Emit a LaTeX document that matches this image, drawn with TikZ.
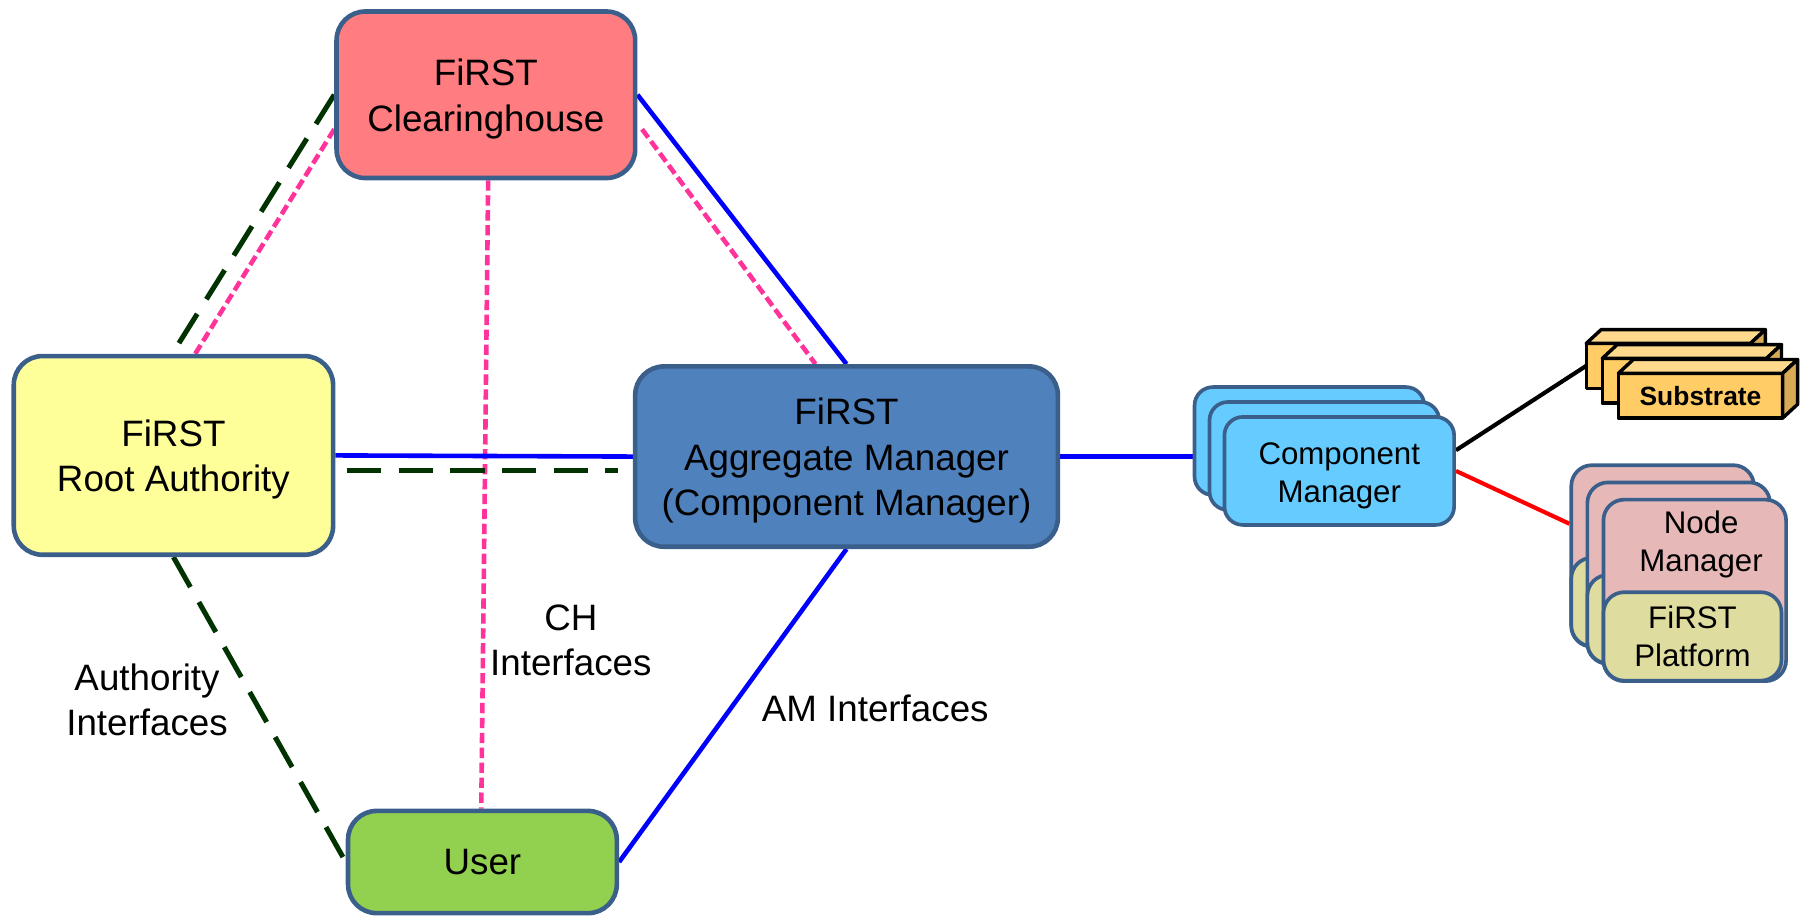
\documentclass[tikz,border=0pt]{standalone}
\usepackage{fontspec}
\setmainfont{Liberation Sans}
\usetikzlibrary{calc,backgrounds}
\definecolor{bord}{HTML}{3A5F8B}
\definecolor{chfill}{HTML}{FF7C80}
\definecolor{rafill}{HTML}{FFFF99}
\definecolor{amfill}{HTML}{4F81BD}
\definecolor{userfill}{HTML}{92D050}
\definecolor{cmfill}{HTML}{66CCFF}
\definecolor{nmfill}{HTML}{E6B9B8}
\definecolor{platfill}{HTML}{DFDC9F}
\definecolor{subfront}{HTML}{FFCC66}
\definecolor{subtop}{HTML}{FFD98C}
\definecolor{subside}{HTML}{D9AA55}
\definecolor{pinkline}{HTML}{FF3399}
\definecolor{greenline}{HTML}{003300}
\definecolor{blueline}{HTML}{0000FF}
\newcommand\bigtxt{\fontsize{16}{19.8}\selectfont}
\newcommand\midtxt{\fontsize{13.6}{16.6}\selectfont}
\newcommand\subtxt{\fontsize{11.5}{13}\selectfont\bfseries}
\newcommand\lowtext[2]{\raisebox{#1}[\height][\depth]{\begin{tabular}{@{}c@{}}#2\end{tabular}}}
\newcommand\cubefaces[1]{%
  \draw[subedge, fill=subtop] (#1.north west) -- ++(13,-12) -- ($(#1.north east)+(13,-12)$) -- (#1.north east) -- cycle;
  \draw[subedge, fill=subside] (#1.north east) -- ++(13,-12) -- ($(#1.south east)+(13,-12)$) -- (#1.south east) -- cycle;}
\begin{document}
\begin{tikzpicture}[x=0.5pt,y=-0.5pt,
  mainbox/.style={draw=bord, line width=2pt, rounded corners=12.5pt, align=center, font=\bigtxt, inner sep=0pt},
  cmbox/.style={draw=bord, fill=cmfill, line width=1.6pt, rounded corners=8pt, minimum width=100pt, minimum height=47pt, align=center, font=\midtxt, inner sep=0pt},
  nmbox/.style={draw=bord, fill=nmfill, line width=1.6pt, rounded corners=9pt, minimum width=79.5pt, minimum height=79pt, inner sep=0pt},
  platbox/.style={draw=bord, fill=platfill, line width=1.6pt, rounded corners=9pt, minimum width=77.5pt, minimum height=38.5pt, align=center, font=\midtxt, inner sep=0pt},
  subbox/.style={draw=black, fill=subfront, line width=1.5pt, line join=round, minimum width=71.5pt, minimum height=19.5pt, outer sep=0pt, inner sep=0pt, font=\subtxt},
  subedge/.style={draw=black, line width=1.5pt, line join=round},
  lbl/.style={align=center, font=\bigtxt, inner sep=0pt},
  txt/.style={align=center, font=\midtxt, inner sep=0pt},
  bluecon/.style={draw=blueline, line width=2pt},
  pinkcon/.style={draw=pinkline, line width=2pt, dash pattern=on 4.5pt off 2pt},
  greencon/.style={draw=greenline, line width=2.2pt, dash pattern=on 15pt off 7.5pt}
]
\useasboundingbox (0,0) rectangle (1568,797);

% main nodes
\node[mainbox, fill=chfill, minimum width=130pt, minimum height=72.5pt] (ch) at (423,82.5) {\lowtext{-2pt}{FiRST\\Clearinghouse}};
\node[mainbox, fill=rafill, minimum width=139pt, minimum height=86.5pt] (ra) at (151,396.5) {\lowtext{-2pt}{FiRST\\Root Authority}};
\node[mainbox, fill=amfill, minimum width=184pt, minimum height=78.5pt] (am) at (737,397.5) {\lowtext{-2pt}{FiRST\\Aggregate Manager\\(Component Manager)}};
\node[mainbox, fill=userfill, minimum width=117pt, minimum height=44.5pt] (user) at (420,750.5) {\lowtext{-1.5pt}{User}};

% component manager stack
\node[cmbox] (cm3) at (1140,384) {};
\node[cmbox] (cm2) at (1153,397) {};
\node[cmbox] (cm) at (1166,410) {\lowtext{-2pt}{Component\\Manager}};

% substrate stack
\node[subbox] (sub3) at (1452.5,318.5) {};
\cubefaces{sub3}
\node[subbox] (sub2) at (1466.5,331.5) {};
\cubefaces{sub2}
\node[subbox] (sub) at (1480.5,344.5) {Substrate};
\cubefaces{sub}

% node manager stack
\node[nmbox] (nm3) at (1447.5,484) {};
\node[platbox] (pl3) at ($(nm3.south)+(-2,-40.5)$) {};
\node[nmbox] (nm2) at (1461.5,499) {};
\node[platbox] (pl2) at ($(nm2.south)+(-2,-40.5)$) {};
\node[nmbox] (nm) at (1475.5,514) {};
\node[platbox] (pl) at ($(nm.south)+(-2,-40.5)$) {FiRST\\Platform};
\node[txt] (nmtext) at (1481,474) {Node\\Manager};

% labels
\node[lbl] (chl) at (497,557.5) {CH\\Interfaces};
\node[lbl] (authl) at (128,609.5) {Authority\\Interfaces};
\node[lbl] (aml) at (762,617) {AM Interfaces};

% connectors
\begin{pgfonlayer}{background}
\draw[bluecon] (ch.east) -- (am.north);
\draw[pinkcon] ($(ch.east)+(4,30)$) -- ($(am.north)+(-27,0)$);
\draw[pinkcon] ($(ch.south)+(2,0)$) -- ($(user.north)+(-1,0)$);
\draw[pinkcon] ($(ch.west)+(0,30)$) -- ($(ra.north)+(19,0)$);
\draw[greencon] (ch.west) -- ($(ra.north)+(-1,0)$);
\draw[bluecon] (ra.east) -- (am.west);
\draw[greencon] ($(ra.east)+(10,13)$) -- ($(am.west)+(-13,12)$);
\draw[greencon] (ra.south) -- (user.west);
\draw[bluecon] (am.south) -- (user.east);
\draw[bluecon] (am.east) -- (am.east -| cm3.west);
\draw[draw=black, line width=1.8pt] ($(cm.east)+(0,-18)$) -- (sub3.west);
\draw[draw=red, line width=1.8pt] (cm.east) -- ($(nm3.west)+(0,-28)$);
\end{pgfonlayer}
\end{tikzpicture}
\end{document}
